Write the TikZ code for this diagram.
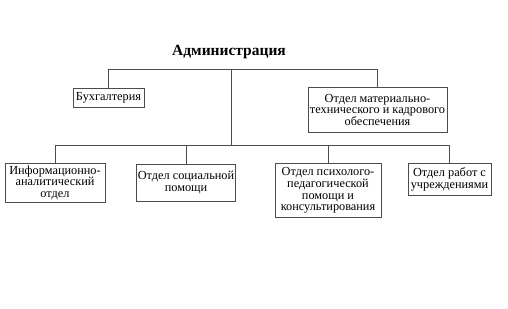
\documentclass[tikz,border=0pt]{standalone}
\usepackage{fontspec}
\setmainfont{Liberation Serif}
\begin{document}
\begin{tikzpicture}
      [x=1pt,y=-1pt,link/.style={draw=black!70,line width=0.8pt},
       every node/.style={draw=black!70,line width=0.8pt,align=center,anchor=north,inner xsep=1pt,inner ysep=2pt,font=\fontsize{12.3}{11.8}\selectfont}]
      \useasboundingbox (0,0) rectangle (508,308);
      \node[draw=none,anchor=center,font=\fontsize{15.5}{17}\selectfont\bfseries] (adm) at (229,52) {Администрация};
      \node[minimum width=71pt,minimum height=19pt] (buh) at (108.5,88) {Бухгалтерия};
      \node[minimum width=139pt,minimum height=45pt] (mto) at (377.5,87) {Отдел материально-\\технического и кадрового\\обеспечения};
      \node[minimum width=100pt,minimum height=39pt] (info) at (55,163) {Информационно-\\аналитический\\отдел};
      \node[minimum width=96pt,minimum height=37pt] (soc) at (186,164) {Отдел социальной\\помощи};
      \node[minimum width=106pt,minimum height=54pt] (psy) at (328,163) {Отдел психолого-\\педагогической\\помощи и\\консультирования};
      \node[minimum width=83pt,minimum height=32pt] (rab) at (449.5,163) {Отдел работ с\\учреждениями};

      \coordinate (top) at (231,69);
      \coordinate (bot) at (231,145);
      \draw[link] (top) -- (bot);
      \foreach \to in {buh,mto}
      \draw[link] (top) -| (\to.north);
      \foreach \to in {info,soc,psy,rab}
      \draw[link] (bot) -| (\to.north);
\end{tikzpicture}
\end{document}
